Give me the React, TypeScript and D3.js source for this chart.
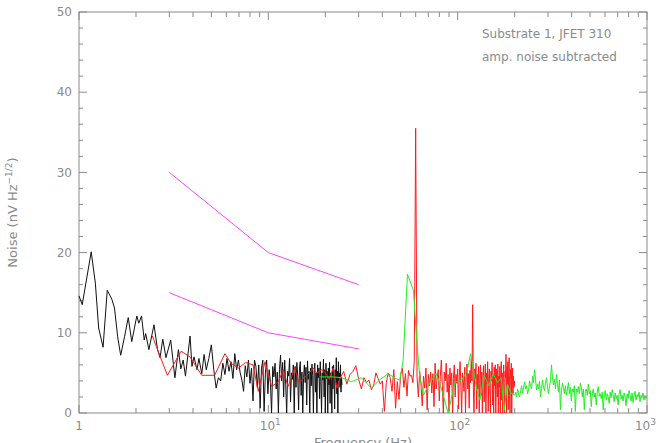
import React from "react";
import * as d3 from "d3";

const W = 658;
const H = 443;
const margin = { top: 12, right: 11, bottom: 30, left: 79 };

// black trace, sparse low-frequency part: [Hz, nV/rtHz]
const blackLow: [number, number][] = [
  [1.0, 14.6], [1.04, 13.5], [1.16, 20.1], [1.22, 16.2], [1.27, 10.6], [1.34, 8.2],
  [1.41, 15.3], [1.49, 14.2], [1.54, 13.1], [1.6, 9.5], [1.66, 7.2], [1.74, 9.5],
  [1.82, 11.9], [1.9, 8.9], [2.02, 12.1], [2.07, 11.2], [2.14, 12.1], [2.21, 9.1],
  [2.25, 9.9], [2.34, 7.9], [2.49, 11.0], [2.6, 7.9], [2.68, 6.9], [2.77, 9.2],
  [2.88, 6.9], [3.05, 9.1], [3.21, 4.4], [3.35, 7.9], [3.45, 5.5], [3.55, 6.6],
  [3.65, 4.6], [3.86, 9.6], [3.95, 5.8], [4.05, 7.0], [4.2, 5.4], [4.3, 6.8],
  [4.45, 4.9], [4.58, 7.3], [4.7, 5.4], [4.85, 6.8],
];
// black trace, dense part: 5 Hz onwards in 0.15 Hz steps
const blackHiStart = 5;
const blackHiStep = 0.15;
const blackHi = [
  8.5, 5.4, 3.1, 4.4, 4.0, 6.2, 4.8, 6.8, 5.2, 6.4, 4.3, 7.4, 5.4, 6.6,
  5.0, 4.1, 2.7, 5.9, 4.5, 6.6, 3.7, 5.6, 1.5, 6.6, 5.8, 3.2, 6.0, 0.6,
  5.6, 6.6, 0.2, 5.0, 6.6, 2.4, 5.4, 4.0, 0.0, 5.8, 4.5, 6.2, 3.0, 5.1,
  0.0, 5.4, 7.2, 4.0, 6.3, 2.0, 6.6, 3.6, 0.0, 5.2, 4.6, 6.8, 1.4, 5.0,
  4.2, 6.0, 0.0, 5.8, 3.2, 6.3, 4.5, 0.4, 5.5, 6.4, 2.2, 5.1, 0.0, 4.4,
  6.0, 3.8, 5.7, 1.0, 6.5, 4.2, 5.2, 0.0, 5.6, 3.4, 6.1, 4.7, 0.0, 5.3,
  6.2, 2.6, 5.0, 0.0, 6.0, 4.4, 5.6, 1.8, 6.4, 3.9, 0.0, 5.0, 4.1, 6.7,
  2.0, 5.4, 0.0, 6.2, 4.3, 5.2, 0.0, 5.6, 3.5, 6.3, 1.2, 5.0, 4.2, 0.0,
  5.8, 3.0, 6.0, 4.5, 0.5, 5.4, 3.8, 6.9, 2.4, 5.2, 0.0, 6.4, 4.0, 5.0,
  3.2, 6.0, 2.6, 4.5, 3.5,
];

// red trace, sparse part below 20 Hz
const redLow: [number, number][] = [
  [2.44, 9.6], [2.93, 4.7], [3.46, 7.7], [3.86, 7.0], [4.45, 4.7], [5.2, 4.7],
  [5.9, 7.4], [6.35, 6.2], [6.95, 5.6], [7.6, 6.3], [8.3, 6.0], [8.85, 2.7],
  [9.6, 6.4], [10.4, 3.3], [11.3, 3.9], [12.0, 5.4], [12.7, 3.3], [13.8, 5.6],
  [14.5, 3.8], [15.7, 4.5], [17.3, 5.6], [18.0, 5.0], [19.2, 5.4],
];
// red trace, 20..200 Hz in 1 Hz steps
const redHiStart = 20;
const redHiStep = 1;
const redHi = [
  5.0, 4.2, 5.6, 3.1, 4.4, 5.2, 3.6, 4.8, 5.2, 5.9,
  4.2, 3.0, 4.4, 3.8, 4.1, 2.9, 3.5, 5.0, 4.3, 3.6,
  4.0, 0.2, 3.8, 5.0, 4.4, 2.7, 5.4, 0.6, 3.9, 1.7,
  4.8, 5.6, 3.2, 4.9, 2.1, 5.3, 4.6, 4.7, 3.8, 6.5,
  35.5, 4.5, 2.0, 5.2, 3.7, 0.9, 4.6, 3.1, 5.6, 0.4,
  4.8, 3.4, 5.1, 2.5, 4.9, 0.8, 6.2, 3.0, 4.4, 5.4,
  1.5, 4.6, 6.6, 3.4, 0.0, 5.1, 4.0, 6.2, 2.6, 4.8,
  0.3, 5.6, 3.5, 5.0, 0.0, 4.3, 6.0, 2.0, 4.8, 3.7,
  5.5, 0.5, 4.6, 6.4, 3.2, 0.0, 5.0, 4.1, 2.7, 5.7,
  0.0, 4.5, 6.1, 3.0, 4.9, 0.6, 5.3, 3.8, 6.8, 4.0,
  13.5, 3.2, 0.0, 5.5, 4.2, 6.2, 0.5, 4.8, 3.0, 5.8,
  0.0, 4.4, 6.0, 2.2, 5.1, 0.0, 4.6, 5.9, 1.4, 4.0,
  6.1, 0.0, 5.0, 3.6, 6.4, 0.2, 4.5, 5.5, 2.4, 0.0,
  5.2, 4.0, 6.3, 1.0, 4.8, 0.0, 5.7, 3.4, 6.0, 0.0,
  4.2, 5.5, 2.0, 6.1, 0.0, 4.6, 3.2, 5.8, 0.0, 4.9,
  6.4, 1.6, 5.0, 0.0, 4.3, 6.0, 2.8, 0.0, 5.2, 4.4,
  7.3, 0.0, 5.8, 3.6, 6.4, 0.4, 5.0, 6.9, 2.2, 0.0,
  5.4, 4.3, 6.2, 0.0, 3.8, 5.6, 2.4, 4.6, 3.2, 4.0,
  3.4,
];

// green trace, sparse part below 200 Hz
const greenLow: [number, number][] = [
  [18.8, 4.5], [22, 4.5], [24.4, 4.4], [27.5, 3.9], [31, 4.4], [35, 3.1],
  [39, 4.2], [43, 4.9], [47, 4.3], [49.5, 4.1], [51.5, 6.5], [54.3, 17.3],
  [58.4, 15.3], [60.8, 9.1], [63, 4.5], [66, 2.2], [71, 3.7], [77, 4.9],
  [81, 3.5], [89, 0.0], [97, 3.9], [105, 4.1], [112, 5.2], [117, 7.4],
  [121, 5.5], [126, 3.0], [131, 1.6], [138, 4.7], [146, 3.4], [154, 4.9],
  [162, 3.8], [170, 4.4], [176, 0.3], [183, 3.6], [191, 2.5],
];
// green trace, 200..1000 Hz, log-spaced bins
const greenHiFrom = 200;
const greenHiTo = 1000;
const greenHi = [
  2.2, 2.6, 2.0, 3.0, 2.3, 2.0, 2.8, 3.4, 2.5, 3.2,
  3.9, 3.0, 3.4, 2.4, 2.9, 4.0, 3.3, 3.0, 4.6, 3.8,
  5.4, 4.2, 2.9, 3.6, 3.0, 4.0, 2.0, 3.1, 4.1, 3.2,
  2.8, 3.8, 4.4, 3.2, 2.4, 3.4, 4.0, 6.0, 4.4, 3.5,
  4.2, 3.0, 4.8, 3.6, 2.6, 4.1, 0.4, 2.8, 3.7, 3.2,
  2.4, 3.4, 2.2, 3.0, 3.8, 2.4, 3.2, 1.5, 3.0, 2.6,
  3.4, 0.2, 3.0, 2.6, 3.3, 2.4, 3.7, 3.2, 2.0, 3.0,
  0.4, 2.7, 3.0, 2.2, 3.6, 2.4, 2.8, 0.8, 2.4, 3.0,
  2.0, 2.5, 1.0, 2.6, 3.3, 2.1, 2.4, 1.8, 2.6, 0.4,
  2.2, 2.8, 1.6, 2.4, 2.0, 1.2, 2.6, 1.9, 2.9, 2.3,
  1.4, 2.5, 1.8, 2.2, 1.0, 2.4, 2.9, 1.7, 2.2, 1.5,
  2.5, 2.0, 0.9, 2.4, 1.8, 2.8, 2.2, 1.5, 2.5, 1.3,
  2.2, 2.7, 1.6, 2.3, 2.0, 2.6, 1.4, 2.2, 1.9, 2.5,
  1.6, 2.2, 1.8, 2.0,
];

// magenta reference lines
const limitUpper: [number, number][] = [[3, 30], [10, 20], [30, 16]];
const limitLower: [number, number][] = [[3, 15], [10, 10], [30, 8]];

const yMajor = [0, 10, 20, 30, 40, 50];
const yMinor = d3.range(0, 51, 2);
const xMajor = [1, 10, 100, 1000];
const xExp = ["", "1", "2", "3"];
const noteLines = ["Substrate 1, JFET 310", "amp. noise subtracted"];

const grey = "#8a8a8a";
const font = "'DejaVu Sans', sans-serif";

export default function App() {
  const x = d3.scaleLog().domain([1, 1000]).range([margin.left, W - margin.right]);
  const y = d3.scaleLinear().domain([0, 50]).range([H - margin.bottom, margin.top]);

  const black = blackLow.concat(
    blackHi.map((v, i) => [blackHiStart + i * blackHiStep, v] as [number, number])
  );
  const red = redLow.concat(
    redHi.map((v, i) => [redHiStart + i * redHiStep, v] as [number, number])
  );
  const n = greenHi.length;
  const green = greenLow.concat(
    greenHi.map(
      (v, i) =>
        [greenHiFrom * Math.pow(greenHiTo / greenHiFrom, i / (n - 1)), v] as [number, number]
    )
  );

  const line = d3
    .line<[number, number]>()
    .x((d) => x(d[0]))
    .y((d) => y(d[1]));

  const x0 = margin.left;
  const x1 = W - margin.right;
  const y0 = H - margin.bottom;
  const y1 = margin.top;

  // minor log ticks 2..9 in each decade
  const xMinor: number[] = [];
  [1, 10, 100].forEach((dec) => d3.range(2, 10).forEach((k) => xMinor.push(dec * k)));

  return (
    <svg
      width={W}
      height={H}
      style={{ position: "absolute", left: 0, top: 0, background: "#fff" }}
      fontFamily={font}
    >
      {/* frame */}
      <rect x={x0} y={y1} width={x1 - x0} height={y0 - y1} fill="none" stroke={grey} strokeWidth={1} />

      {/* y ticks, both sides */}
      {yMinor.map((v) => {
        const len = v % 10 === 0 ? 8 : 4;
        return (
          <g key={"yt" + v} stroke={grey}>
            <line x1={x0} x2={x0 + len} y1={y(v)} y2={y(v)} />
            <line x1={x1} x2={x1 - len} y1={y(v)} y2={y(v)} />
          </g>
        );
      })}
      {/* x ticks, bottom and top */}
      {xMinor.concat(xMajor).map((f) => {
        const len = xMajor.includes(f) ? 8 : 5;
        return (
          <g key={"xt" + f} stroke={grey}>
            <line x1={x(f)} x2={x(f)} y1={y0} y2={y0 - len} />
            <line x1={x(f)} x2={x(f)} y1={y1} y2={y1 + len} />
          </g>
        );
      })}

      {/* y tick labels */}
      {yMajor.map((v) => (
        <text key={"yl" + v} x={x0 - 7} y={y(v)} dy="0.35em" textAnchor="end" fontSize={12} fill={grey}>
          {v}
        </text>
      ))}
      {/* x tick labels */}
      {xMajor.map((f, i) => {
        const last = i === xMajor.length - 1;
        return (
          <text
            key={"xl" + f}
            x={last ? W - 2 : x(f) + (i === 0 ? 0 : 2)}
            y={y0 + 17}
            textAnchor={last ? "end" : "middle"}
            fontSize={12}
            fill={grey}
          >
            {i === 0 ? "1" : "10"}
            {i > 0 && (
              <tspan dy={-5} fontSize={9}>
                {xExp[i]}
              </tspan>
            )}
          </text>
        );
      })}

      {/* axis titles */}
      <text x={(x0 + x1) / 2} y={H + 4} textAnchor="middle" fontSize={13} fill={grey}>
        Frequency (Hz)
      </text>
      <text
        transform={`translate(17, ${(y0 + y1) / 2}) rotate(-90)`}
        textAnchor="middle"
        fontSize={13}
        fill={grey}
      >
        Noise (nV Hz
        <tspan dy={-5} fontSize={9}>
          −1/2
        </tspan>
        <tspan dy={5}>)</tspan>
      </text>

      {/* annotation */}
      {noteLines.map((t, i) => (
        <text key={t} x={482} y={38 + i * 23} fontSize={12} fill={grey}>
          {t}
        </text>
      ))}

      {/* traces */}
      <path d={line(black) ?? ""} fill="none" stroke="#111" strokeWidth={1} />
      <path d={line(red) ?? ""} fill="none" stroke="#ff1a1a" strokeWidth={1} />
      <path d={line(green) ?? ""} fill="none" stroke="#22ee22" strokeWidth={1} />
      <path d={line(limitUpper) ?? ""} fill="none" stroke="#ff44ff" strokeWidth={1} />
      <path d={line(limitLower) ?? ""} fill="none" stroke="#ff44ff" strokeWidth={1} />
    </svg>
  );
}
